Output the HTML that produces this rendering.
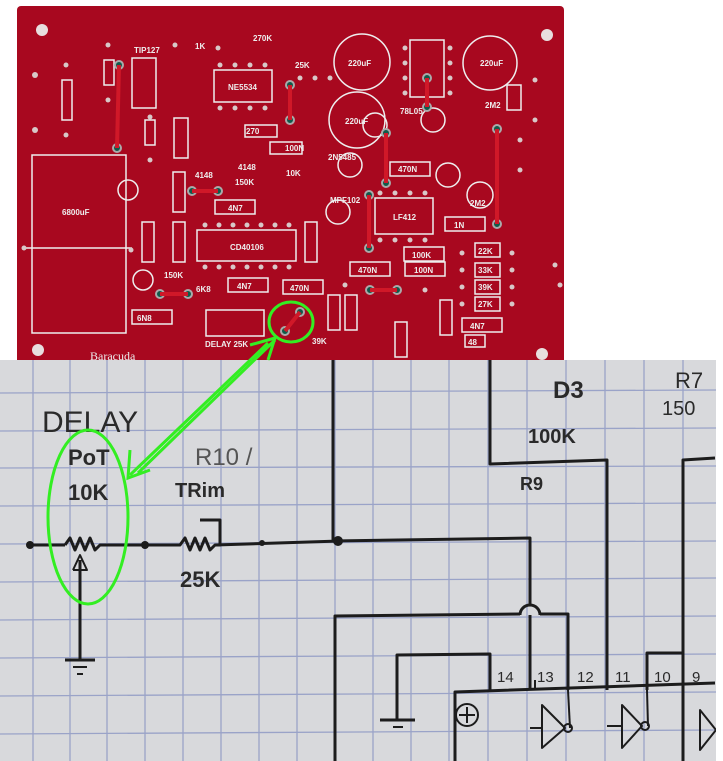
<!DOCTYPE html>
<html><head><meta charset="utf-8"><style>
html,body{margin:0;padding:0;background:#fff;width:723px;height:761px;overflow:hidden}
svg{display:block}
</style></head><body>
<svg width="723" height="761" viewBox="0 0 723 761" xmlns="http://www.w3.org/2000/svg" font-family="Liberation Sans, sans-serif">
<rect width="723" height="761" fill="#fff"/>
<!-- PCB -->
<rect x="17" y="6" width="547" height="360" rx="4" fill="#a8081f"/>
<g fill="#e8dede"><circle cx="42" cy="30" r="6"/><circle cx="547" cy="35" r="6"/><circle cx="38" cy="350" r="6"/><circle cx="542" cy="354" r="6"/></g>
<g fill="none" stroke="#eee" stroke-width="1.5">
<rect x="32" y="155" width="94" height="178"/><line x1="26" y1="248" x2="132" y2="248"/>
<circle cx="362" cy="62" r="28"/><circle cx="357" cy="120" r="28"/><circle cx="490" cy="63" r="27"/>
<rect x="214" y="70" width="58" height="32"/><rect x="410" y="40" width="34" height="57"/>
<rect x="375" y="198" width="58" height="36"/><rect x="197" y="230" width="99" height="31"/>
<rect x="132" y="58" width="24" height="50"/><rect x="206" y="310" width="58" height="26"/>
<rect x="62" y="80" width="10" height="40"/><rect x="104" y="60" width="10" height="25"/>
<rect x="145" y="120" width="10" height="25"/><rect x="174" y="118" width="14" height="40"/>
<rect x="245" y="125" width="32" height="12"/><rect x="270" y="142" width="32" height="12"/>
<rect x="173" y="172" width="12" height="40"/><rect x="215" y="200" width="40" height="14"/>
<rect x="142" y="222" width="12" height="40"/><rect x="173" y="222" width="12" height="40"/>
<rect x="305" y="222" width="12" height="40"/><rect x="228" y="278" width="40" height="14"/>
<rect x="283" y="280" width="40" height="14"/><rect x="132" y="310" width="40" height="14"/>
<rect x="350" y="262" width="40" height="14"/><rect x="405" y="262" width="40" height="14"/>
<rect x="404" y="247" width="40" height="14"/><rect x="390" y="162" width="40" height="14"/>
<rect x="445" y="217" width="40" height="14"/><rect x="475" y="243" width="25" height="14"/>
<rect x="475" y="263" width="25" height="14"/><rect x="475" y="280" width="25" height="14"/>
<rect x="475" y="297" width="25" height="14"/><rect x="462" y="318" width="40" height="14"/>
<rect x="465" y="335" width="20" height="12"/><rect x="328" y="295" width="12" height="35"/>
<rect x="345" y="295" width="12" height="35"/><rect x="395" y="322" width="12" height="35"/>
<rect x="440" y="300" width="12" height="35"/><rect x="507" y="85" width="14" height="25"/>
<circle cx="128" cy="190" r="10"/><circle cx="350" cy="165" r="12"/><circle cx="338" cy="212" r="12"/>
<circle cx="448" cy="175" r="12"/><circle cx="480" cy="195" r="13"/>
<circle cx="433" cy="120" r="12"/><circle cx="375" cy="125" r="12"/><circle cx="143" cy="280" r="10"/>
</g>
<g fill="#d8c8c8">
<circle cx="220" cy="65" r="2.5"/><circle cx="235" cy="65" r="2.5"/><circle cx="250" cy="65" r="2.5"/><circle cx="265" cy="65" r="2.5"/>
<circle cx="220" cy="108" r="2.5"/><circle cx="235" cy="108" r="2.5"/><circle cx="250" cy="108" r="2.5"/><circle cx="265" cy="108" r="2.5"/>
<circle cx="380" cy="193" r="2.5"/><circle cx="395" cy="193" r="2.5"/><circle cx="410" cy="193" r="2.5"/><circle cx="425" cy="193" r="2.5"/>
<circle cx="380" cy="240" r="2.5"/><circle cx="395" cy="240" r="2.5"/><circle cx="410" cy="240" r="2.5"/><circle cx="425" cy="240" r="2.5"/>
<circle cx="205" cy="225" r="2.5"/><circle cx="219" cy="225" r="2.5"/><circle cx="233" cy="225" r="2.5"/><circle cx="247" cy="225" r="2.5"/><circle cx="261" cy="225" r="2.5"/><circle cx="275" cy="225" r="2.5"/><circle cx="289" cy="225" r="2.5"/>
<circle cx="205" cy="267" r="2.5"/><circle cx="219" cy="267" r="2.5"/><circle cx="233" cy="267" r="2.5"/><circle cx="247" cy="267" r="2.5"/><circle cx="261" cy="267" r="2.5"/><circle cx="275" cy="267" r="2.5"/><circle cx="289" cy="267" r="2.5"/>
<circle cx="405" cy="48" r="2.5"/><circle cx="405" cy="63" r="2.5"/><circle cx="405" cy="78" r="2.5"/><circle cx="405" cy="93" r="2.5"/>
<circle cx="450" cy="48" r="2.5"/><circle cx="450" cy="63" r="2.5"/><circle cx="450" cy="78" r="2.5"/><circle cx="450" cy="93" r="2.5"/>
<circle cx="35" cy="75" r="3"/><circle cx="35" cy="130" r="3"/><circle cx="66" cy="65" r="2.5"/><circle cx="66" cy="135" r="2.5"/>
<circle cx="108" cy="45" r="2.5"/><circle cx="108" cy="100" r="2.5"/><circle cx="24" cy="248" r="2.5"/><circle cx="131" cy="250" r="2.5"/>
<circle cx="175" cy="45" r="2.5"/><circle cx="218" cy="48" r="2.5"/><circle cx="150" cy="117" r="2.5"/><circle cx="150" cy="160" r="2.5"/>
<circle cx="555" cy="265" r="2.5"/><circle cx="560" cy="285" r="2.5"/><circle cx="462" cy="253" r="2.5"/><circle cx="462" cy="270" r="2.5"/>
<circle cx="462" cy="287" r="2.5"/><circle cx="462" cy="304" r="2.5"/><circle cx="512" cy="253" r="2.5"/><circle cx="512" cy="270" r="2.5"/><circle cx="512" cy="287" r="2.5"/><circle cx="512" cy="304" r="2.5"/>
<circle cx="535" cy="80" r="2.5"/><circle cx="535" cy="120" r="2.5"/><circle cx="520" cy="140" r="2.5"/><circle cx="520" cy="170" r="2.5"/>
<circle cx="315" cy="78" r="2.5"/><circle cx="330" cy="78" r="2.5"/><circle cx="300" cy="78" r="2.5"/><circle cx="345" cy="285" r="2.5"/><circle cx="425" cy="290" r="2.5"/>
</g>
<g fill="#0f5a4a" stroke="#aaa" stroke-width="2">
<circle cx="119" cy="65" r="4"/><circle cx="117" cy="148" r="4"/><circle cx="290" cy="85" r="4"/><circle cx="290" cy="120" r="4"/>
<circle cx="427" cy="78" r="4"/><circle cx="427" cy="107" r="4"/><circle cx="386" cy="133" r="4"/><circle cx="386" cy="183" r="4"/>
<circle cx="369" cy="195" r="4"/><circle cx="369" cy="248" r="4"/><circle cx="497" cy="129" r="4"/><circle cx="497" cy="224" r="4"/>
<circle cx="192" cy="191" r="4"/><circle cx="218" cy="191" r="4"/><circle cx="160" cy="294" r="4"/><circle cx="188" cy="294" r="4"/>
<circle cx="300" cy="312" r="4"/><circle cx="285" cy="331" r="4"/><circle cx="370" cy="290" r="4"/><circle cx="397" cy="290" r="4"/>
</g>
<g stroke="#d01828" stroke-width="4">
<line x1="119" y1="65" x2="117" y2="148"/><line x1="290" y1="85" x2="290" y2="120"/><line x1="427" y1="78" x2="427" y2="107"/>
<line x1="386" y1="133" x2="386" y2="183"/><line x1="369" y1="195" x2="369" y2="248"/><line x1="497" y1="129" x2="497" y2="224"/>
<line x1="192" y1="191" x2="218" y2="191"/><line x1="160" y1="294" x2="188" y2="294"/><line x1="300" y1="312" x2="285" y2="331"/><line x1="370" y1="290" x2="397" y2="290"/>
</g>
<g fill="#eee" font-size="8" font-weight="bold">
<text x="62" y="215">6800uF</text><text x="348" y="66">220uF</text><text x="345" y="124">220uF</text><text x="480" y="66">220uF</text>
<text x="228" y="90">NE5534</text><text x="393" y="220">LF412</text><text x="230" y="250">CD40106</text>
<text x="134" y="53">TIP127</text><text x="253" y="41">270K</text><text x="195" y="49">1K</text>
<text x="246" y="134">270</text><text x="285" y="151">100N</text><text x="238" y="170">4148</text><text x="195" y="178">4148</text>
<text x="235" y="185">150K</text><text x="286" y="176">10K</text><text x="228" y="211">4N7</text><text x="237" y="289">4N7</text>
<text x="290" y="291">470N</text><text x="137" y="321">6N8</text><text x="205" y="347">DELAY 25K</text><text x="312" y="344">39K</text>
<text x="358" y="273">470N</text><text x="412" y="258">100K</text><text x="414" y="273">100N</text><text x="398" y="172">470N</text>
<text x="478" y="254">22K</text><text x="478" y="273">33K</text><text x="478" y="290">39K</text><text x="478" y="307">27K</text>
<text x="470" y="329">4N7</text><text x="468" y="345">48</text><text x="454" y="228">1N</text><text x="400" y="114">78L05</text>
<text x="328" y="160">2N5485</text><text x="330" y="203">MPF102</text><text x="470" y="206">2M2</text><text x="485" y="108">2M2</text>
<text x="164" y="278">150K</text><text x="196" y="292">6K8</text><text x="295" y="68">25K</text><text x="90" y="360" font-size="12" font-weight="normal" font-family="Liberation Serif, serif">Baracuda</text>
</g>
<!-- graph paper -->
<rect x="0" y="360" width="716" height="401" fill="#d8d9dc"/>
<g stroke="#9aa3c8" stroke-width="1.3">
<line x1="33" y1="360" x2="33" y2="761"/><line x1="70" y1="360" x2="70" y2="761"/><line x1="107" y1="360" x2="107" y2="761"/><line x1="145" y1="360" x2="145" y2="761"/>
<line x1="183" y1="360" x2="183" y2="761"/><line x1="221" y1="360" x2="221" y2="761"/><line x1="259" y1="360" x2="259" y2="761"/><line x1="297" y1="360" x2="297" y2="761"/>
<line x1="335" y1="360" x2="335" y2="761"/><line x1="373" y1="360" x2="373" y2="761"/><line x1="411" y1="360" x2="411" y2="761"/><line x1="449" y1="360" x2="449" y2="761"/>
<line x1="488" y1="360" x2="488" y2="761"/><line x1="527" y1="360" x2="527" y2="761"/><line x1="566" y1="360" x2="566" y2="761"/><line x1="605" y1="360" x2="605" y2="761"/>
<line x1="644" y1="360" x2="644" y2="761"/><line x1="683" y1="360" x2="683" y2="761"/>
<line x1="0" y1="393" x2="716" y2="390"/><line x1="0" y1="431" x2="716" y2="428"/><line x1="0" y1="468" x2="716" y2="466"/><line x1="0" y1="506" x2="716" y2="503"/>
<line x1="0" y1="544" x2="716" y2="541"/><line x1="0" y1="582" x2="716" y2="578"/><line x1="0" y1="620" x2="716" y2="616"/><line x1="0" y1="658" x2="716" y2="654"/>
<line x1="0" y1="696" x2="716" y2="692"/><line x1="0" y1="734" x2="716" y2="730"/>
</g>
<g stroke="#1c1c1c" stroke-width="3" fill="none" stroke-linejoin="round">
<polyline points="30,545 65,545"/><polyline points="65,545 70,538 75,550 80,538 85,550 90,538 95,550 100,545 145,545 180,545 185,538 190,550 195,538 200,550 205,538 210,550 215,545 340,541"/>
<polyline points="215,545 220,545 220,520 200,520"/>
<polyline points="333,360 333,541 530,538 530,605"/>
<path d="M520,615 a10,10 0 0 1 20,0"/>
<polyline points="530,615 530,690"/>
<polyline points="335,761 335,616 520,614"/><polyline points="540,614 568,614 568,690"/>
<polyline points="490,360 490,464 607,460 607,690"/>
<polyline points="397,720 397,655 490,654 490,690"/>
<polyline points="380,720 415,720"/><line x1="393" y1="727" x2="403" y2="727" stroke-width="2"/>
<polyline points="455,761 455,692 715,683"/>
<polyline points="647,690 647,653 683,653"/>
<polyline points="683,761 683,460 715,458"/>
<polyline points="80,560 80,660"/><polyline points="65,660 95,660"/>
<line x1="73" y1="667" x2="87" y2="667" stroke-width="2"/><line x1="77" y1="674" x2="83" y2="674" stroke-width="2"/>
<polyline points="73,570 80,555 87,570 73,570" stroke-width="2"/>
<line x1="535" y1="690" x2="535" y2="680" stroke-width="2"/>
<polygon points="542,705 542,748 565,728" stroke-width="2"/><circle cx="568" cy="728" r="4" stroke-width="2"/>
<polyline points="530,728 542,728" stroke-width="2"/><polyline points="570,728 568,690" stroke-width="2"/>
<polygon points="622,705 622,748 642,726" stroke-width="2"/><circle cx="645" cy="726" r="4" stroke-width="2"/>
<polyline points="607,726 622,726" stroke-width="2"/><polyline points="648,726 647,690" stroke-width="2"/>
<polygon points="700,710 700,750 716,730" stroke-width="2"/>
<circle cx="467" cy="715" r="11" stroke-width="2"/><line x1="467" y1="707" x2="467" y2="723" stroke-width="2"/><line x1="459" y1="715" x2="475" y2="715" stroke-width="2"/>
</g>
<g fill="#1c1c1c"><circle cx="30" cy="545" r="4"/><circle cx="145" cy="545" r="4"/><circle cx="262" cy="543" r="3"/><circle cx="338" cy="541" r="5"/></g>
<g fill="#2a2a2a" font-family="Liberation Sans, sans-serif" font-weight="bold">
<text x="42" y="432" font-size="30" font-weight="normal">DELAY</text>
<text x="68" y="465" font-size="22">PoT</text><text x="68" y="500" font-size="22">10K</text>
<text x="195" y="465" font-size="24" font-weight="normal" fill="#555">R10 /</text>
<text x="175" y="497" font-size="20">TRim</text><text x="180" y="587" font-size="22">25K</text>
<text x="553" y="398" font-size="24">D3</text><text x="528" y="443" font-size="20">100K</text><text x="520" y="490" font-size="18">R9</text>
<text x="675" y="388" font-size="22" font-weight="normal">R7</text><text x="662" y="415" font-size="20" font-weight="normal">150</text>
<text x="497" y="682" font-size="15" font-weight="normal">14</text><text x="537" y="682" font-size="15" font-weight="normal">13</text>
<text x="577" y="682" font-size="15" font-weight="normal">12</text><text x="615" y="682" font-size="15" font-weight="normal">11</text>
<text x="654" y="682" font-size="15" font-weight="normal">10</text><text x="692" y="682" font-size="15" font-weight="normal">9</text>
</g>
<rect x="716" y="360" width="7" height="401" fill="#fff"/>
<!-- green annotations -->
<g stroke="#33ee22" stroke-width="3" fill="none">
<ellipse cx="88" cy="517" rx="40" ry="87"/>
<ellipse cx="291" cy="322" rx="22" ry="20"/>
<line x1="268" y1="343" x2="130" y2="475"/><line x1="275" y1="340" x2="138" y2="473"/>
<polyline points="130,450 128,478 150,470"/><polyline points="250,345 275,338 268,360"/>
</g>
</svg>
</body></html>
